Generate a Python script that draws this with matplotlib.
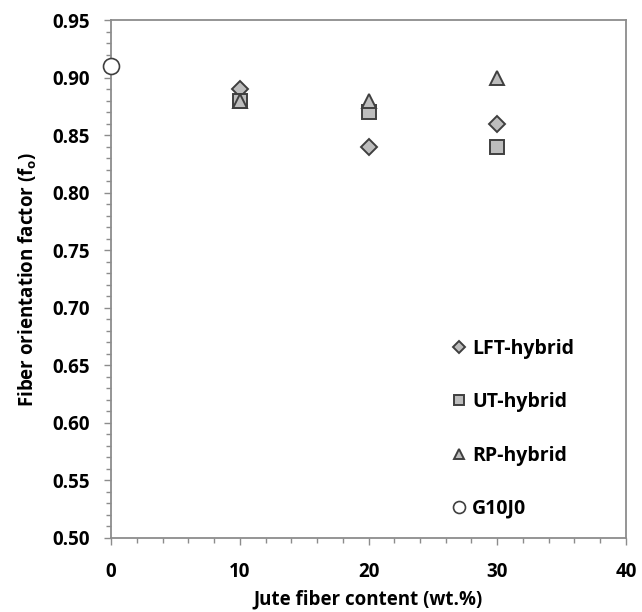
import matplotlib
matplotlib.use("Agg")
import matplotlib.pyplot as plt
from matplotlib.ticker import MultipleLocator

plt.rcParams.update({
    'font.family': ['Open Sans', 'DejaVu Sans'],
    'font.weight': 'bold',
})

# data
jute_hybrid = [10, 20, 30]
lft_hybrid = [0.89, 0.84, 0.86]
ut_hybrid = [0.88, 0.87, 0.84]
rp_hybrid = [0.88, 0.88, 0.90]
g10j0_x = [0]
g10j0_y = [0.91]

face = '#bdbdbd'
edge = '#3f3f3f'
axis_col = '#8c8c8c'

fig = plt.figure(figsize=(6.42, 6.12), dpi=100)
ax = fig.add_axes([0.173, 0.121, 0.802, 0.846])

ax.plot(jute_hybrid, lft_hybrid, ls='none', marker='D', ms=8, mfc=face, mec=edge, mew=1.4,
        label='LFT-hybrid', zorder=3)
ax.plot(jute_hybrid, ut_hybrid, ls='none', marker='s', ms=9.5, mfc=face, mec=edge, mew=1.4,
        label='UT-hybrid', zorder=3)
ax.plot(jute_hybrid, rp_hybrid, ls='none', marker='^', ms=10.5, mfc=face, mec=edge, mew=1.4,
        label='RP-hybrid', zorder=3)
ax.plot(g10j0_x, g10j0_y, ls='none', marker='o', ms=11.5, mfc='white', mec=edge, mew=1.2,
        label='G10J0', zorder=4, clip_on=False)

ax.set_xlim(0, 40)
ax.set_ylim(0.50, 0.95)
ax.xaxis.set_major_locator(MultipleLocator(10))
ax.xaxis.set_minor_locator(MultipleLocator(2))
ax.yaxis.set_major_locator(MultipleLocator(0.05))
ax.yaxis.set_minor_locator(MultipleLocator(0.01))
ax.yaxis.set_major_formatter(plt.FormatStrFormatter('%.2f'))

for s in ax.spines.values():
    s.set_color(axis_col)
    s.set_linewidth(1.3)
ax.tick_params(which='both', direction='out', color=axis_col, labelsize=13.5, width=1)
ax.tick_params(which='major', length=5)
ax.tick_params(which='minor', length=3.5)
ax.tick_params(axis='y', which='major', pad=10)
ax.tick_params(axis='x', which='major', pad=12)
for lab in ax.get_xticklabels() + ax.get_yticklabels():
    lab.set_fontweight('bold')

ax.set_xlabel('Jute fiber content (wt.%)', fontsize=13.5, fontweight='bold', labelpad=6)
ax.set_ylabel('Fiber orientation factor (f$_\\mathregular{o}$)', fontsize=13.5, fontweight='bold', labelpad=10)

leg = ax.legend(loc='upper left', bbox_to_anchor=(0.665, 0.385), frameon=False, fontsize=14,
                markerscale=0.75, handlelength=0.6, handletextpad=0.35, labelspacing=1.72,
                borderpad=0, borderaxespad=0)
for t in leg.get_texts():
    t.set_fontweight('bold')

fig.savefig('out.png', dpi=100)
